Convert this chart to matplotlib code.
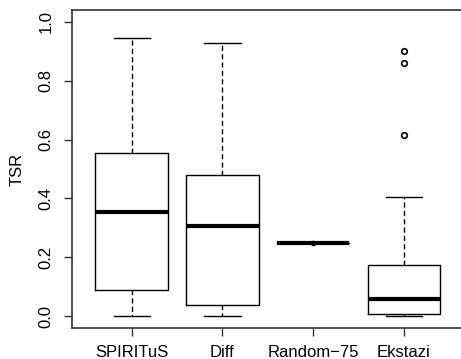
import numpy as np
import matplotlib
matplotlib.use("Agg")
import matplotlib.pyplot as plt

plt.rcParams['font.family'] = ['Liberation Sans', 'DejaVu Sans']

## Values
labels = ['SPIRITuS', 'Diff', 'Random\u221275', 'Ekstazi']
whislo = [0.0, 0.0, 0.25, 0.001]
q1 = [0.090, 0.037, 0.25, 0.009]
med = [0.354, 0.305, 0.25, 0.057]
q3 = [0.554, 0.480, 0.25, 0.173]
whishi = [0.945, 0.927, 0.25, 0.404]
fliers = [[], [], [], [0.902, 0.859, 0.616]]

stats = []
for i in range(len(labels)):
    stats.append(dict(label=labels[i], whislo=whislo[i], q1=q1[i], med=med[i],
                      q3=q3[i], whishi=whishi[i], fliers=fliers[i]))

fig = plt.figure(figsize=(4.61, 3.59), dpi=100)
ax = fig.add_axes([0.156, 0.0864, 0.8497, 0.8856])

ax.bxp(stats, positions=[1, 2, 3, 4], widths=0.8, capwidths=0.4,
       boxprops=dict(color='black', lw=1.0),
       medianprops=dict(color='black', lw=3, solid_capstyle='butt'),
       whiskerprops=dict(color='black', lw=1.0, linestyle=(0, (3, 3)),
                         dash_capstyle='round', solid_capstyle='round'),
       capprops=dict(color='black', lw=1.0),
       flierprops=dict(marker='o', markerfacecolor='none', markeredgecolor='black',
                       markersize=4, markeredgewidth=1.2))

# the one-value box in R leaves a dot at the median
flat = [i + 1 for i in range(len(labels)) if whislo[i] == whishi[i]]
ax.plot(flat, [med[i - 1] for i in flat], 'o', color='black', ms=3)

ax.set_xlim(0.34, 4.66)
ax.set_ylim(-0.04, 1.04)
ax.set_yticks([0.0, 0.2, 0.4, 0.6, 0.8, 1.0])
ax.set_yticklabels(['0.0', '0.2', '0.4', '0.6', '0.8', '1.0'], rotation=90, va='center')
ax.set_ylabel('TSR', fontsize=12, labelpad=10)
ax.tick_params(axis='both', direction='out', length=6, width=1, labelsize=12, color='#333333')
ax.tick_params(axis='y', pad=7)
ax.tick_params(axis='x', pad=6)
for s in ax.spines.values():
    s.set_color('#333333')
    s.set_linewidth(1.2)

fig.savefig('out.png', dpi=100)
